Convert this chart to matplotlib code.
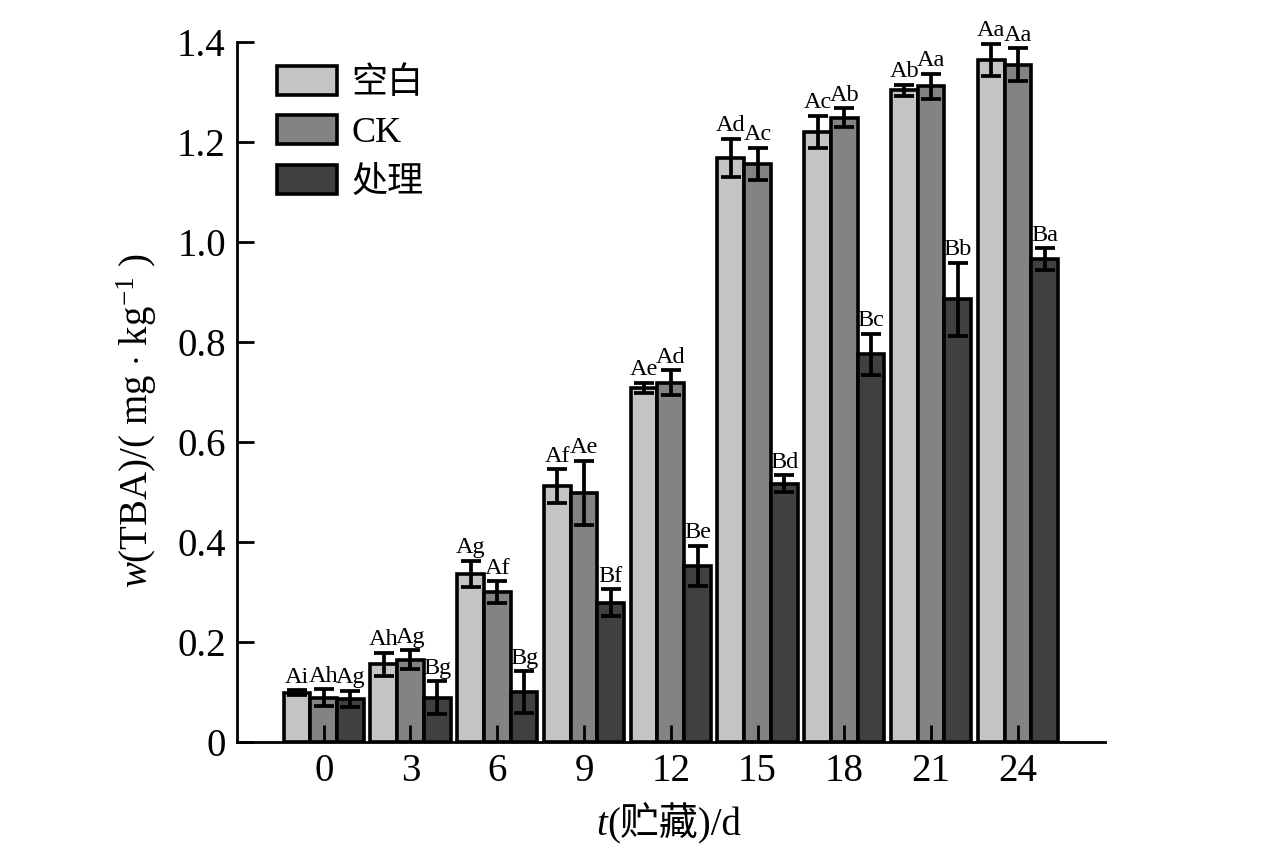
import numpy as np
import matplotlib.pyplot as plt
from matplotlib.ticker import FuncFormatter

plt.rcParams['font.family'] = ['Liberation Serif', 'Noto Sans CJK SC']
plt.rcParams['mathtext.fontset'] = 'custom'
plt.rcParams['mathtext.rm'] = 'Liberation Serif'
plt.rcParams['mathtext.it'] = 'Liberation Serif:italic'

days = ['0', '3', '6', '9', '12', '15', '18', '21', '24']
series = ['空白', 'CK', '处理']
colors = ['#c4c4c4', '#838383', '#404040']

blank = [0.099, 0.156, 0.337, 0.512, 0.709, 1.169, 1.221, 1.304, 1.365]
ck = [0.089, 0.165, 0.300, 0.499, 0.719, 1.157, 1.249, 1.312, 1.355]
treat = [0.087, 0.089, 0.100, 0.279, 0.353, 0.517, 0.776, 0.886, 0.966]

blank_err = [0.005, 0.023, 0.026, 0.034, 0.010, 0.038, 0.032, 0.011, 0.032]
ck_err = [0.017, 0.019, 0.022, 0.064, 0.025, 0.032, 0.019, 0.025, 0.033]
treat_err = [0.016, 0.033, 0.042, 0.027, 0.040, 0.017, 0.041, 0.073, 0.022]

blank_lab = ['Ai', 'Ah', 'Ag', 'Af', 'Ae', 'Ad', 'Ac', 'Ab', 'Aa']
ck_lab = ['Ah', 'Ag', 'Af', 'Ae', 'Ad', 'Ac', 'Ab', 'Aa', 'Aa']
treat_lab = ['Ag', 'Bg', 'Bg', 'Bf', 'Be', 'Bd', 'Bc', 'Bb', 'Ba']

vals = [blank, ck, treat]
errs = [blank_err, ck_err, treat_err]
labs = [blank_lab, ck_lab, treat_lab]

fig = plt.figure(figsize=(12.76, 8.49), dpi=100)
ax = fig.add_axes([0.1857, 0.126, 0.680, 0.8245])

x = np.arange(len(days))
w = 0.308
for k in range(3):
    pos = x + (k - 1) * w
    ax.bar(pos, vals[k], w, color=colors[k], edgecolor='black', linewidth=2.6,
           label=series[k], zorder=1)
    ax.errorbar(pos, vals[k], yerr=errs[k], fmt='none', ecolor='black',
                elinewidth=2.7, capsize=7.5, capthick=2.7, zorder=3)
    for p, v, e, t in zip(pos, vals[k], errs[k], labs[k]):
        ax.annotate(t, (p, v + e), xytext=(0, 1.5), textcoords='offset points',
                    ha='center', va='bottom', fontsize=17.5)

ax.set_xlim(-1.0, 9.0)
ax.set_ylim(0, 1.4)
ax.set_xticks(x)
ax.set_xticklabels(days)
ax.set_yticks(np.arange(0, 1.41, 0.2))
ax.yaxis.set_major_formatter(FuncFormatter(lambda v, p: '0' if v == 0 else f'{v:.1f}'))
ax.tick_params(direction='in', length=12, width=2, labelsize=28, pad=8)
ax.spines['top'].set_visible(False)
ax.spines['right'].set_visible(False)
ax.spines['left'].set_linewidth(2)
ax.spines['bottom'].set_linewidth(2)

ax.set_ylabel(r'$w$(TBA)/( mg $\cdot$ kg$^{-1}$ )', fontsize=28)
ax.yaxis.set_label_coords(-0.09, 0.46)

# x label: italic t followed by the Chinese part
rest = fig.text(0.528, 0.017, '(贮藏)/d', fontsize=28, ha='center', va='baseline')
fig.canvas.draw()
bb = rest.get_window_extent(fig.canvas.get_renderer())
fig.text(bb.x0 / fig.bbox.width, 0.017, 't', fontsize=28, style='italic',
         ha='right', va='baseline')

ax.legend(loc='upper left', bbox_to_anchor=(0.009, 1.012), frameon=False,
          fontsize=26, handlelength=1.65, handleheight=0.85, labelspacing=0.4,
          handletextpad=0.4)

fig.savefig('out.png', dpi=100)
